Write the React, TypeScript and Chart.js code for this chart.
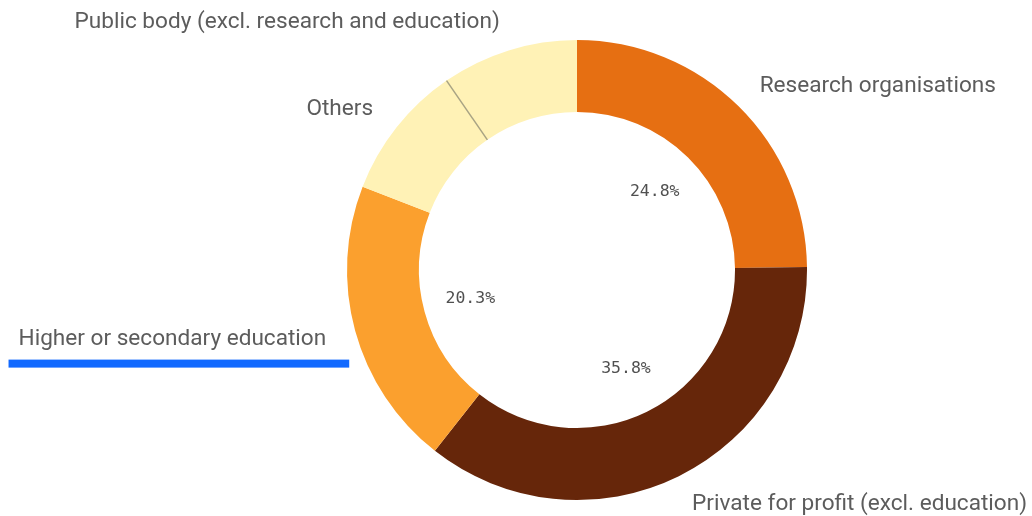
import React, { useEffect, useRef } from "react";
import { Chart, registerables } from "chart.js";

Chart.register(...registerables);

const categories = [
  "Research organisations",
  "Private for profit (excl. education)",
  "Higher or secondary education",
  "Others",
  "Public body (excl. research and education)",
];
const values = [24.8, 35.8, 20.3, 9.5, 9.6];
const percentLabels = ["24.8%", "35.8%", "20.3%", "", ""];
const colors = ["#E66F12", "#66260A", "#FBA02E", "#FFF2B6", "#FFF2B6"];
const highlighted = "Higher or secondary education";

const labelPlugin = {
  id: "donutLabels",
  afterDatasetsDraw(chart: any) {
    const ctx = chart.ctx;
    const meta = chart.getDatasetMeta(0);
    ctx.save();
    meta.data.forEach((arc: any, i: number) => {
      const { x, y, startAngle, endAngle, innerRadius, outerRadius } = arc.getProps(
        ["x", "y", "startAngle", "endAngle", "innerRadius", "outerRadius"],
        true
      );
      const mid = (startAngle + endAngle) / 2;
      if (i === 4) {
        ctx.strokeStyle = "#A8A383";
        ctx.lineWidth = 1.5;
        ctx.beginPath();
        ctx.moveTo(x + Math.cos(startAngle) * innerRadius, y + Math.sin(startAngle) * innerRadius);
        ctx.lineTo(x + Math.cos(startAngle) * outerRadius, y + Math.sin(startAngle) * outerRadius);
        ctx.stroke();
      }
      const pct = percentLabels[i];
      if (pct) {
        const r = innerRadius * 0.7;
        ctx.font = '16.5px "DejaVu Sans Mono", monospace';
        ctx.fillStyle = "#505050";
        ctx.textAlign = "center";
        ctx.textBaseline = "middle";
        ctx.fillText(pct, x + Math.cos(mid) * r, y + Math.sin(mid) * r);
      }
      const ro = outerRadius + 30;
      const lx = x + Math.cos(mid) * ro;
      const ly = y + Math.sin(mid) * ro + 1;
      const right = Math.cos(mid) >= 0;
      ctx.font = '22.6px Roboto, "Noto Sans", sans-serif';
      ctx.fillStyle = "#5C5C5C";
      ctx.textAlign = right ? "left" : "right";
      ctx.textBaseline = "middle";
      const text = chart.data.labels[i];
      ctx.fillText(text, lx, ly);
      if (text === highlighted) {
        const w = ctx.measureText(text).width;
        const left = right ? lx : lx - w;
        ctx.fillStyle = "#1169FF";
        ctx.fillRect(left - 10, ly + 20, w + 33, 8);
      }
    });
    ctx.restore();
  },
};

export default function App() {
  const ref = useRef<HTMLCanvasElement | null>(null);
  useEffect(() => {
    if (!ref.current) return;
    const chart = new Chart(ref.current, {
      type: "doughnut",
      data: {
        labels: categories,
        datasets: [
          {
            data: values,
            backgroundColor: colors,
            borderWidth: 0,
            hoverOffset: 0,
            offset: 0,
          },
        ],
      },
      options: {
        responsive: false,
        animation: false,
        cutout: "68.7%",
        rotation: 0,
        layout: { padding: { left: 347, right: 225, top: 40, bottom: 16 } },
        plugins: {
          legend: { display: false },
          tooltip: { enabled: false },
        },
      },
      plugins: [labelPlugin],
    });
    return () => chart.destroy();
  }, []);
  return (
    <div style={{ position: "absolute", left: 0, top: 0, width: 1032, height: 516, background: "#fff" }}>
      <canvas ref={ref} width={1032} height={516} />
    </div>
  );
}
